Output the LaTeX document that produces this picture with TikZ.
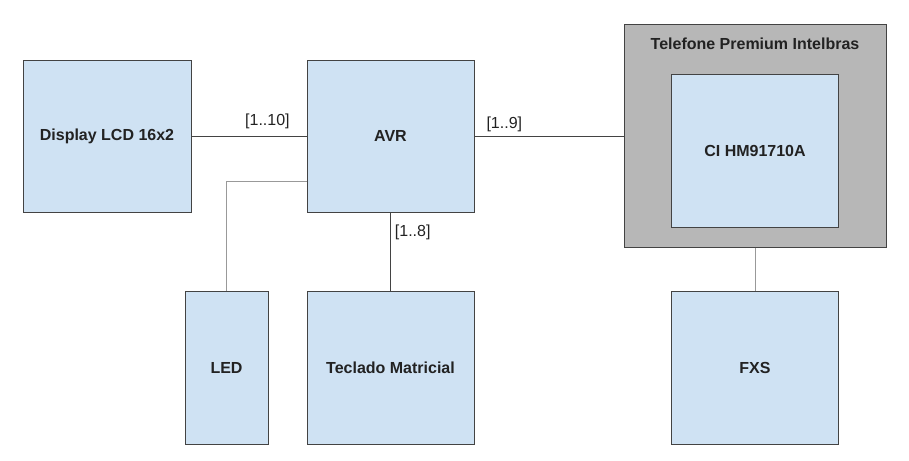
\documentclass[tikz,border=0pt]{standalone}
\usepackage{fontspec}
\setmainfont{Liberation Sans}
\usepackage{tikz}
\definecolor{boxblue}{HTML}{CFE2F3}
\definecolor{boxgray}{HTML}{B7B7B7}
\definecolor{edgegray}{HTML}{434343}
\definecolor{wiregray}{HTML}{999999}
\definecolor{textdark}{HTML}{222222}

\begin{document}
\begin{tikzpicture}[x = 1pt, y = -1pt, line width = 1pt,
                    block/.style = {rectangle, draw = edgegray, fill = boxblue, inner sep = 0pt,
                                    text = textdark, font = \fontsize{16}{19}\selectfont\bfseries},
                    group/.style = {rectangle, draw = edgegray, fill = boxgray, inner sep = 0pt},
                    pins/.style = {font = \fontsize{16}{19}\selectfont, text = textdark, inner sep = 2pt},
                    wire/.style = {draw = edgegray, line width = 0.9pt}]

\useasboundingbox (0,0) rectangle (909,460);

% left side
\node [block, minimum width = 168pt, minimum height = 152pt] (LCD) at (107,136) {Display LCD 16x2};
\node [block, minimum width = 167pt, minimum height = 152pt] (AVR) at (390.5,136) {AVR};
\node [block, minimum width = 83pt, minimum height = 153pt] (LED) at (226.5,367.5) {LED};
\node [block, minimum width = 167pt, minimum height = 153pt] (KEY) at (390.5,367.5) {Teclado Matricial};

% telephone
\node [group, minimum width = 262pt, minimum height = 222pt] (TEL) at (755,136) {};
\node [font = \fontsize{16}{19}\selectfont\bfseries, text = textdark] (TELlabel) at (755,44) {Telefone Premium Intelbras};
\node [block, minimum width = 167pt, minimum height = 153pt] (CI) at (755,150.5) {CI HM91710A};
\node [block, minimum width = 167pt, minimum height = 153pt] (FXS) at (755,367.5) {FXS};

% connections
\draw [wire] (LCD) -- node [pins, pos = 0.66, above = 5pt] {[1..10]} (AVR);
\draw [wire] (AVR) -- node [pins, pos = 0.2, above = 2pt] {[1..9]} (TEL);
\draw [wire] (AVR.south) -- node [pins, pos = 0.26, right = 2pt] {[1..8]} (KEY.north);
\draw [wire, draw = wiregray] ([yshift = -45pt]AVR.west) -| (LED.north);
\draw [wire, draw = wiregray] (TEL.south) -- (FXS.north);
\end{tikzpicture}
\end{document}
